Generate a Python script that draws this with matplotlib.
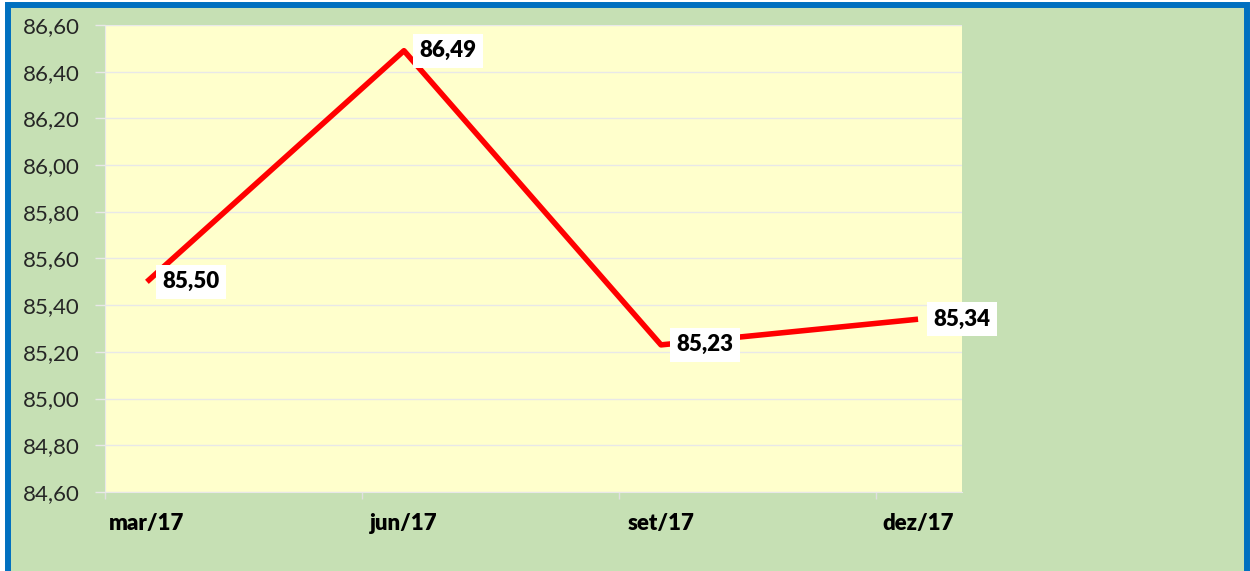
import matplotlib.pyplot as plt
from matplotlib.patches import Rectangle
import numpy as np

# chart data
periods = ['mar/17', 'jun/17', 'set/17', 'dez/17']
values = [85.50, 86.49, 85.23, 85.34]
y_ticks = np.arange(84.6, 86.61, 0.2)

plt.rcParams['font.family'] = ['Lato', 'DejaVu Sans']

fig = plt.figure(figsize=(12.5, 5.71), dpi=100)
fig.patch.set_facecolor('white')

# green chart area with blue frame
fig.patches.append(Rectangle((0.0064, -0.03), 0.9912, 1.022, transform=fig.transFigure,
                             facecolor='#c6e0b4', edgecolor='#0070c0', linewidth=4.3,
                             zorder=-5))

ax = fig.add_axes([0.084, 0.1384, 0.6856, 0.8178])
ax.set_zorder(2)
ax.set_facecolor('#ffffcc')

x = np.arange(len(periods))
ax.plot(x, values, color='#ff0000', lw=4, solid_capstyle='butt', zorder=3)

for xi, v in zip(x, values):
    ax.annotate(f'{v:.2f}'.replace('.', ','), (xi, v), xytext=(11, 0),
                textcoords='offset points', ha='left', va='center',
                fontsize=16, fontweight='heavy', color='black', zorder=4,
                bbox=dict(boxstyle='square,pad=0.3', facecolor='white', edgecolor='none'))

ax.set_xlim(-0.163, 3.171)
ax.set_ylim(84.6, 86.6)
ax.set_yticks(y_ticks)
ax.set_yticklabels([f'{t:.2f}'.replace('.', ',') for t in y_ticks], fontsize=16,
                   color='#262626')
ax.set_xticks(x)
ax.set_xticklabels(periods, fontsize=16, fontweight='heavy', color='black')
ax.set_xticks(x - 0.163, minor=True)

ax.tick_params(axis='x', which='major', length=0, pad=15)
ax.tick_params(axis='x', which='minor', length=5, color='#e0e0e0', width=1)
ax.tick_params(axis='y', length=7, color='#e8e8e8', width=1, pad=11)

ax.grid(axis='y', color='#e8e8e8', lw=1)
ax.set_axisbelow(True)
for side in ['top', 'right']:
    ax.spines[side].set_visible(False)
for side in ['left', 'bottom']:
    ax.spines[side].set_color('#e8e8e8')

fig.savefig('out.png', dpi=100)
